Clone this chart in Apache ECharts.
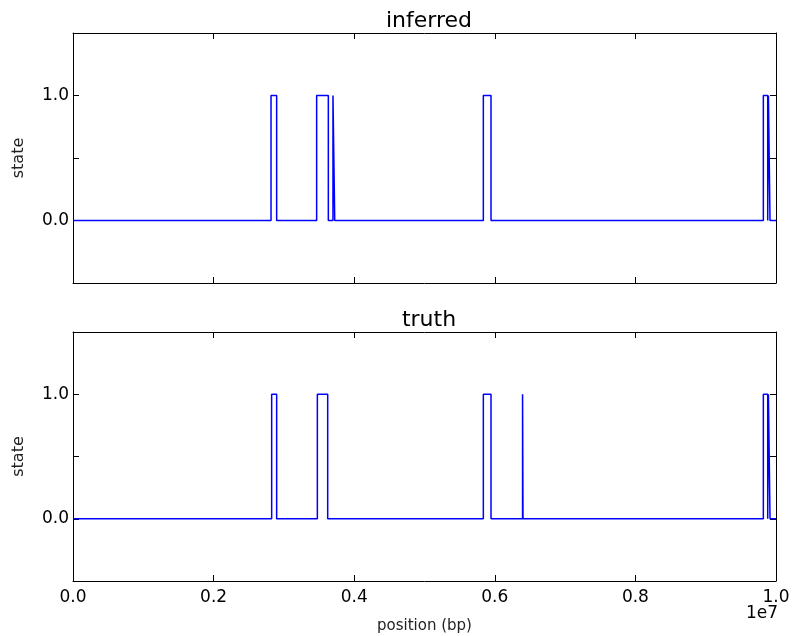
<!DOCTYPE html>
<html>
<head>
<meta charset="utf-8">
<script src="https://cdn.jsdelivr.net/npm/echarts@6/dist/echarts.min.js"></script>
<style>
html,body{margin:0;padding:0;background:#fff;}
#chart{width:793px;height:636px;}
</style>
</head>
<body>
<div id="chart"></div>
<script>
// change points (bp) and the state that starts at each point
var inferredPositions = [0, 2817000, 2897000, 3466000, 3632000, 3698000, 3723000, 5837000, 5946000, 9820000, 9882000, 9892000, 9915000, 10000000];
var inferredStates    = [0, 1, 0, 1, 0, 1, 0, 1, 0, 1, 0, 1, 0, 0];
var truthPositions    = [0, 2826000, 2897000, 3476000, 3623000, 5837000, 5946000, 6395000, 6401000, 9820000, 9882000, 9892000, 9915000, 10000000];
var truthStates       = [0, 1, 0, 1, 0, 1, 0, 1, 0, 1, 0, 1, 0, 0];
var titles = ['inferred', 'truth'];
var xTickLabels = ['0.0', '0.2', '0.4', '0.6', '0.8', '1.0'];
var yTickLabels = {'0': '0.0', '1': '1.0'};

function pairs(xs, ys) { return xs.map(function (x, i) { return [x, ys[i]]; }); }

var FONT = 'DejaVu Sans';
var chart = echarts.init(document.getElementById('chart'), null, {renderer: 'canvas'});
var grids = [
  {left: 73, top: 33, width: 703, height: 250, containLabel: false, outerBoundsMode: 'none'},
  {left: 73, top: 332, width: 703, height: 249, containLabel: false, outerBoundsMode: 'none'}
];
var xAxes = [], yAxes = [];
function xax(gi, pos, labels, name) {
  return {
    type: 'value', gridIndex: gi, position: pos, min: 0, max: 10000000, interval: 2000000,
    axisLine: {show: true, onZero: false, lineStyle: {color: '#000', width: 1}},
    axisTick: {show: true, inside: true, length: 6, lineStyle: {color: '#000'}},
    splitLine: {show: false},
    axisLabel: {show: labels, margin: 8, color: '#000', fontFamily: FONT, fontSize: 17,
      formatter: function (v) { return xTickLabels[Math.round(v / 2000000)]; }},
    name: name || '', nameLocation: 'middle', nameGap: 38,
    nameTextStyle: {fontFamily: FONT, fontSize: 15, color: '#222'}
  };
}
function yax(gi, pos, labels) {
  return {
    type: 'value', gridIndex: gi, position: pos, min: -0.5, max: 1.5, interval: 0.5,
    axisLine: {show: true, onZero: false, lineStyle: {color: '#000', width: 1}},
    axisTick: {show: true, inside: true, length: 6, lineStyle: {color: '#000'}},
    splitLine: {show: false},
    axisLabel: {show: labels, margin: 4, color: '#000', fontFamily: FONT, fontSize: 17,
      formatter: function (v) { var k = String(Math.round(v * 10) / 10); return yTickLabels[k] || ''; }},
    name: labels ? 'state' : '', nameLocation: 'middle', nameGap: 46, nameRotate: 90,
    nameTextStyle: {fontFamily: FONT, fontSize: 16, color: '#222'}
  };
}
for (var g = 0; g < 2; g++) {
  xAxes.push(xax(g, 'bottom', g === 1, g === 1 ? 'position (bp)' : ''));
  xAxes.push(xax(g, 'top', false));
  yAxes.push(yax(g, 'left', true));
  yAxes.push(yax(g, 'right', false));
}
var datasets = [pairs(inferredPositions, inferredStates), pairs(truthPositions, truthStates)];
var series = datasets.map(function (d, i) {
  return {
    type: 'line', step: 'end', xAxisIndex: i * 2, yAxisIndex: i * 2, data: d,
    showSymbol: false, symbol: 'none', lineStyle: {color: '#0000ff', width: 1.5},
    animation: false, clip: false
  };
});
chart.setOption({
  backgroundColor: '#fff',
  animation: false,
  title: [
    {text: titles[0], left: 424, top: 5, textAlign: 'center', textStyle: {fontFamily: FONT, fontSize: 22, fontWeight: 'normal', color: '#000'}},
    {text: titles[1], left: 424, top: 304, textAlign: 'center', textStyle: {fontFamily: FONT, fontSize: 22, fontWeight: 'normal', color: '#000'}}
  ],
  grid: grids,
  xAxis: xAxes,
  yAxis: yAxes,
  series: series,
  graphic: [{type: 'text', right: 15, top: 605, style: {text: '1e7', fontFamily: FONT, fontSize: 17, fill: '#000'}}]
});
</script>
</body>
</html>
